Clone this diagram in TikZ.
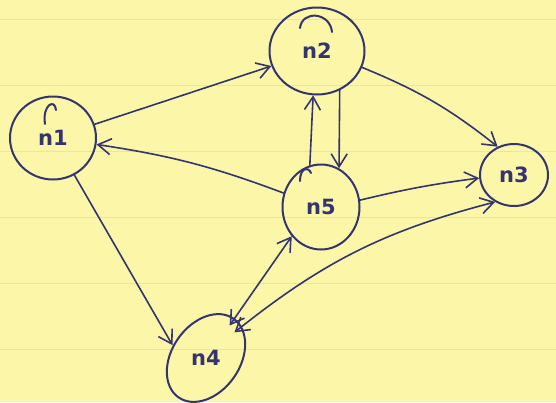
\documentclass[tikz,border=0pt]{standalone}
\usepackage{fontspec}
\setmainfont{DejaVu Sans}
\usetikzlibrary{shapes.geometric,arrows.meta}
\definecolor{paper}{RGB}{251,246,168}
\definecolor{rule}{RGB}{238,230,150}
\definecolor{pen}{RGB}{52,52,112}
\tikzset{
  vtx/.style={ellipse,draw=pen,line width=2pt,inner sep=0pt,text=pen,
    font=\bfseries\fontsize{21}{23}\selectfont},
  arr/.style={draw=pen,line width=1.6pt,line cap=round,
    -{Straight Barb[length=13pt,width=16pt,line width=1.6pt]}},
  barr/.style={draw=pen,line width=1.6pt,line cap=round,
    {Straight Barb[length=13pt,width=16pt,line width=1.6pt]}-{Straight Barb[length=13pt,width=16pt,line width=1.6pt]}},
  hook/.style={draw=pen,line width=2pt,line cap=round}
}
\begin{document}
\begin{tikzpicture}[x=1pt,y=-1pt]
\fill[paper] (0,0) rectangle (556,402);
\useasboundingbox (0,0) rectangle (556,402);
\foreach \yy in {19,85,151,217,283,349}
  \draw[rule,line width=1pt] (0,\yy) -- (556,\yy);
% nodes
\node[vtx,minimum width=86pt,minimum height=83pt] (n1) at (53,138) {n1};
\node[vtx,minimum width=95pt,minimum height=87pt] (n2) at (317,51) {n2};
\node[vtx,minimum width=68pt,minimum height=62pt] (n3) at (514,175) {n3};
\node[vtx,minimum width=77pt,minimum height=85pt] (n5) at (321,207) {n5};
\node[vtx,draw=none,minimum width=68pt,minimum height=86pt] (n4) at (206,358) {n4};
\draw[hook,rotate around={55:(206,358)}] (206,358) ellipse [x radius=48, y radius=34];
% pen-start hooks of the outlines
\draw[hook] (45,124) .. controls (42,105) and (55,98) .. (56,110);
\draw[hook] (300,28) .. controls (302,10) and (330,12) .. (332,32);
\draw[hook] (300,181) .. controls (300,168) and (308,166) .. (311,173);
% edges
\draw[arr] (n1) -- (n4.159);
\draw[arr] (n1) -- (n2);
\draw[arr] (n5) to[bend right=6] (n1);
\draw[arr] (n5.105) -- (n2.265);
\draw[arr] (n2.300) -- (n5.65);
\draw[arr] (n2.340) to[bend left=8] (n3.120);
\draw[arr] (n5.10) to[bend left=3] (n3.185);
\draw[barr] (n4.54) -- (n5.225);
\draw[barr] (n3.235) to[bend right=12] (n4.42);
\end{tikzpicture}
\end{document}
